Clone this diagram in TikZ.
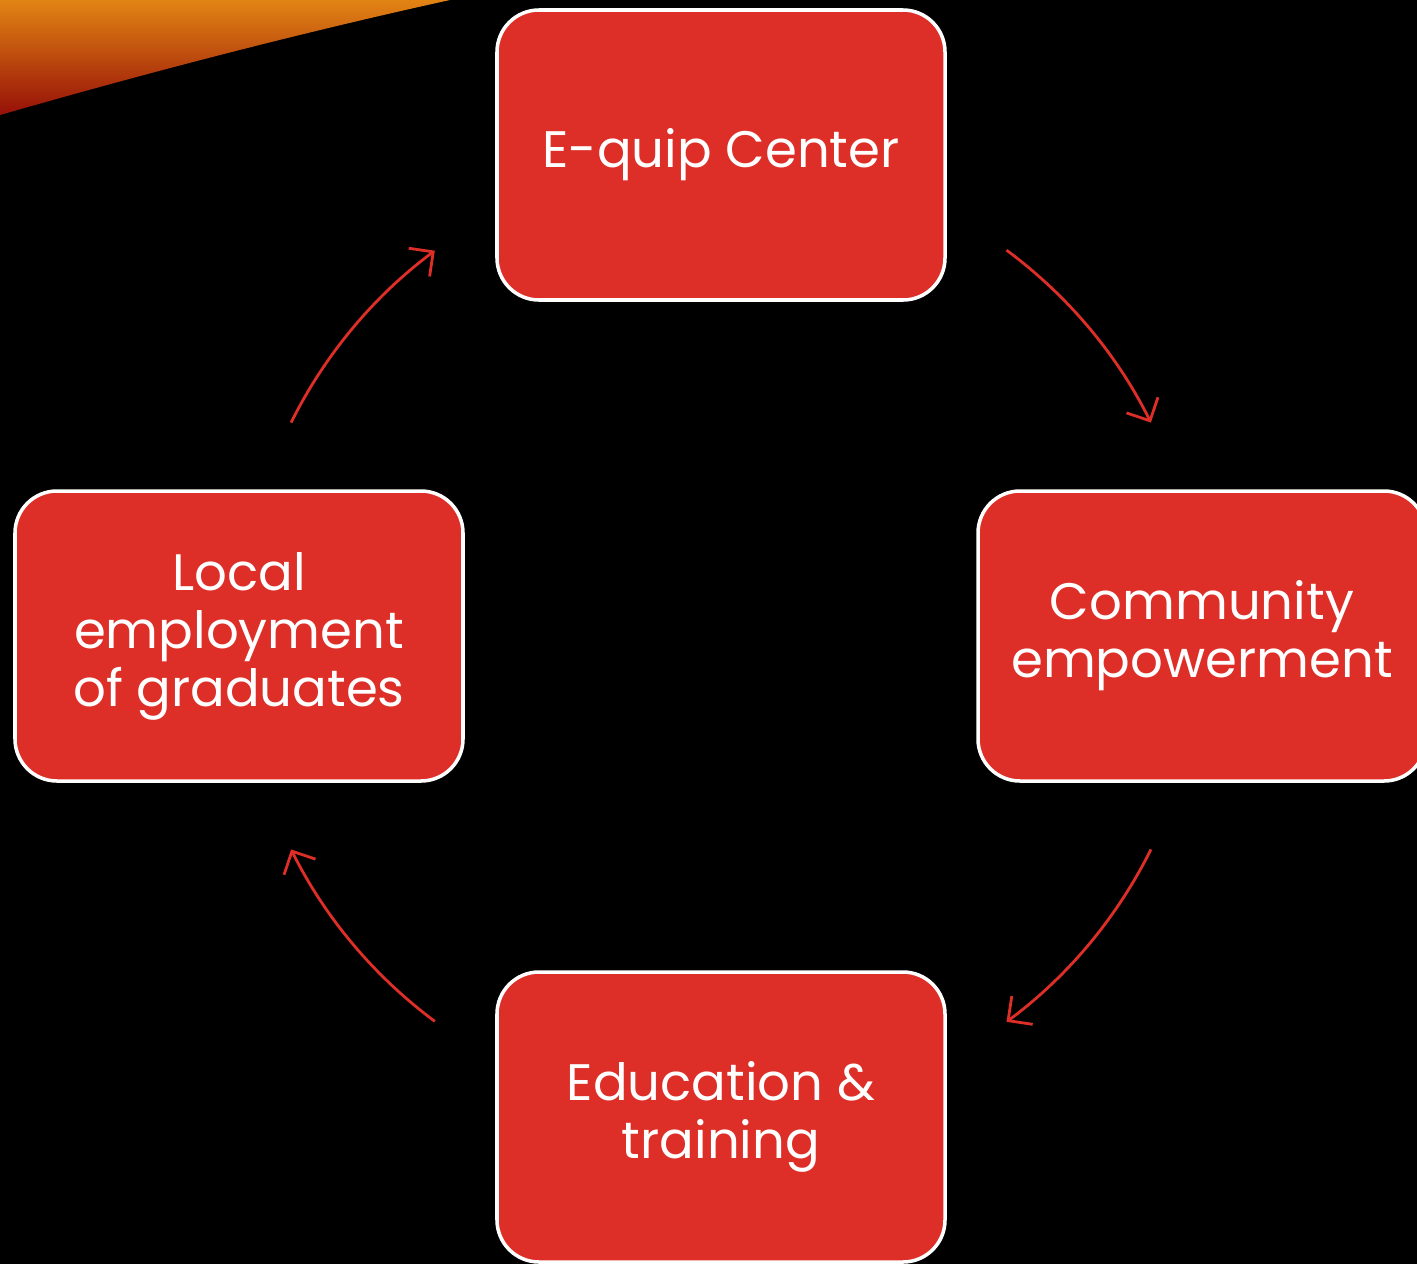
\documentclass[tikz,border=0pt]{standalone}
\usepackage{fontspec}
\setmainfont{Poppins}
\usetikzlibrary{arrows.meta}
\definecolor{boxred}{RGB}{222,46,40}
\definecolor{flameorange}{RGB}{226,132,20}
\definecolor{flamered}{RGB}{150,16,8}

\begin{document}
\begin{tikzpicture}
        \tikzset{stage/.style = {shape=rectangle,rounded corners=0.42cm,fill=boxred,draw=white,line width=1pt,minimum width=4.48cm,minimum height=2.9cm,align=center,text=white,font=\fontsize{14.6}{16.5}\selectfont}};
        \tikzset{cyc/.style = {-{Straight Barb[length=5pt,width=10pt]},draw=boxred,line width=0.8pt}};
        \fill[black] (0,0) rectangle (14.17,-12.64);
        \useasboundingbox (0,0) rectangle (14.17,-12.64);
        % swoosh in the corner
        \shade[top color=flameorange, bottom color=flamered] (0,0) -- (4.5,0)
        .. controls (3.0,-0.33) and (1.5,-0.72) .. (0,-1.15) -- cycle;
        \node[stage] (a) at (7.21,-1.55) {E-quip Center};
        \node[stage] (b) at (12.02,-6.36) {Community\\empowerment};
        \node[stage] (c) at (7.21,-11.17) {Education \&\\training};
        \node[stage] (d) at (2.39,-6.36) {Local\\employment\\of graduates};
        % arcs round the middle
        \coordinate (m) at (7.21,-6.36);
        \path (m) ++(53.5:4.8) coordinate (ab);
        \path (m) ++(-26.4:4.8) coordinate (bc);
        \path (m) ++(-126.6:4.8) coordinate (cd);
        \path (m) ++(153.6:4.8) coordinate (da);
        \draw[cyc] (ab) arc[start angle=53.5, end angle=26.4, radius=4.8];
        \draw[cyc] (bc) arc[start angle=-26.4, end angle=-53.5, radius=4.8];
        \draw[cyc] (cd) arc[start angle=-126.6, end angle=-153.6, radius=4.8];
        \draw[cyc] (da) arc[start angle=153.6, end angle=126.6, radius=4.8];
    \end{tikzpicture}
\end{document}
